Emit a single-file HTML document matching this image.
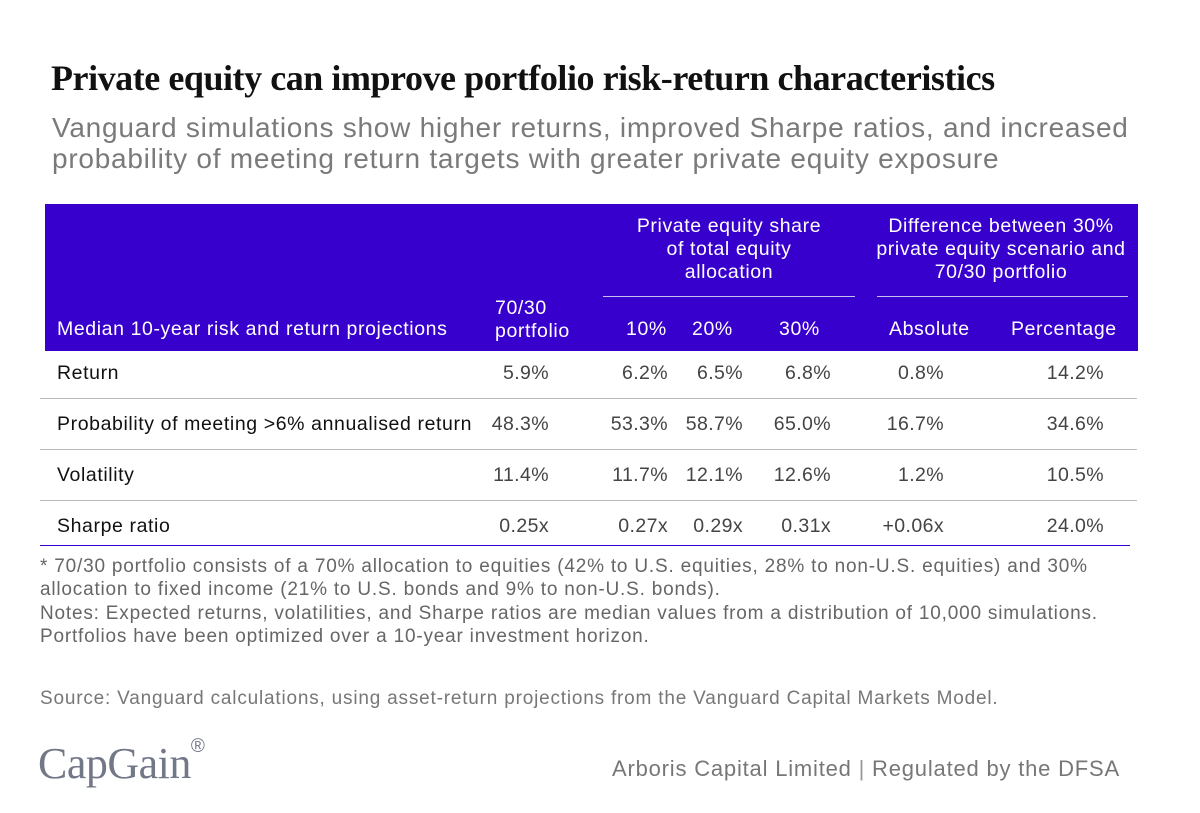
<!DOCTYPE html>
<html><head><meta charset="utf-8"><style>
body{margin:0;width:1200px;height:813px;background:#fff;font-family:"Liberation Sans",sans-serif;position:relative;overflow:hidden}
.a{position:absolute;white-space:nowrap}
.t{color:#111;font-size:19.5px;letter-spacing:0.6px}
.v{color:#444;font-size:19.5px;letter-spacing:0.4px;text-align:right}
.h{color:#fff;font-size:19.5px;letter-spacing:0.6px}
.line{position:absolute;height:1px;background:#bbb}
</style></head><body>
<div class="a" style="left:51px;top:57px;font-family:'Liberation Serif',serif;font-size:36px;font-weight:bold;letter-spacing:-0.45px;color:#111">Private equity can improve portfolio risk-return characteristics</div>
<div class="a" style="left:52px;top:112px;font-size:28px;letter-spacing:0.75px;color:#7a7a7a;line-height:31px">Vanguard simulations show higher returns, improved Sharpe ratios, and increased<br>probability of meeting return targets with greater private equity exposure</div>

<div class="a" style="left:45px;top:204px;width:1093px;height:147px;background:#3800cc"></div>
<div class="a h" style="left:603px;top:215px;width:252px;text-align:center;line-height:23px">Private equity share<br>of total equity<br>allocation</div>
<div class="a h" style="left:865px;top:215px;width:272px;text-align:center;line-height:23px">Difference between 30%<br>private equity scenario and<br>70/30 portfolio</div>
<div class="a" style="left:603px;top:296px;width:252px;height:1px;background:#c8c0f0"></div>
<div class="a" style="left:877px;top:296px;width:251px;height:1px;background:#c8c0f0"></div>
<div class="a h" style="left:57px;top:318px">Median 10-year risk and return projections</div>
<div class="a h" style="left:495px;top:297px;line-height:23px">70/30<br>portfolio</div>
<div class="a h" style="left:626px;top:318px">10%</div>
<div class="a h" style="left:692px;top:318px">20%</div>
<div class="a h" style="left:779px;top:318px">30%</div>
<div class="a h" style="left:889px;top:318px">Absolute</div>
<div class="a h" style="left:1011px;top:318px">Percentage</div>

<div id="rows"></div>
<div class="line" style="left:40px;top:398px;width:1097px"></div>
<div class="line" style="left:40px;top:449px;width:1097px"></div>
<div class="line" style="left:40px;top:500px;width:1097px"></div>
<div class="line" style="left:40px;top:545px;width:1090px;background:#3800cc"></div>

<div class="a" style="left:40px;top:555px;font-size:19px;letter-spacing:0.8px;color:#666;line-height:23.3px">* 70/30 portfolio consists of a 70% allocation to equities (42% to U.S. equities, 28% to non-U.S. equities) and 30%<br>allocation to fixed income (21% to U.S. bonds and 9% to non-U.S. bonds).<br>Notes: Expected returns, volatilities, and Sharpe ratios are median values from a distribution of 10,000 simulations.<br>Portfolios have been optimized over a 10-year investment horizon.</div>
<div class="a" style="left:40px;top:688px;font-size:19px;letter-spacing:0.8px;color:#777">Source: Vanguard calculations, using asset-return projections from the Vanguard Capital Markets Model.</div>
<div class="a" style="left:38px;top:738px;font-family:'Liberation Serif',serif;font-size:44px;color:#737889;letter-spacing:-0.5px">CapGain<sup style="font-size:19px;font-family:'Liberation Sans',sans-serif;vertical-align:top;position:relative;top:-2px">®</sup></div>
<div class="a" style="left:612px;top:756px;font-size:22px;letter-spacing:0.8px;color:#777">Arboris Capital Limited <span style="color:#999">|</span> Regulated by the DFSA</div>

<script>
const rowLabels=["Return","Probability of meeting >6% annualised return","Volatility","Sharpe ratio"];
const col7030=["5.9%","48.3%","11.4%","0.25x"];
const col10=["6.2%","53.3%","11.7%","0.27x"];
const col20=["6.5%","58.7%","12.1%","0.29x"];
const col30=["6.8%","65.0%","12.6%","0.31x"];
const colAbs=["0.8%","16.7%","1.2%","+0.06x"];
const colPct=["14.2%","34.6%","10.5%","24.0%"];
const cols=[[col7030,549,'value-7030'],[col10,668,'value-10'],[col20,743,'value-20'],[col30,831,'value-30'],[colAbs,944,'value-absolute'],[colPct,1104,'value-percentage']];
const rows=document.getElementById('rows');
rowLabels.forEach((lab,i)=>{
  const y=362+i*51;
  const d=document.createElement('div');
  d.className='a t';d.style.left='57px';d.style.top=y+'px';d.textContent=lab;
  
  
  rows.appendChild(d);
  cols.forEach(([arr,right,name])=>{
    const c=document.createElement('div');
    c.className='a v';c.style.right=(1200-right)+'px';c.style.top=y+'px';c.textContent=arr[i];
    
    
    rows.appendChild(c);
  });
});
</script>
</body></html>
